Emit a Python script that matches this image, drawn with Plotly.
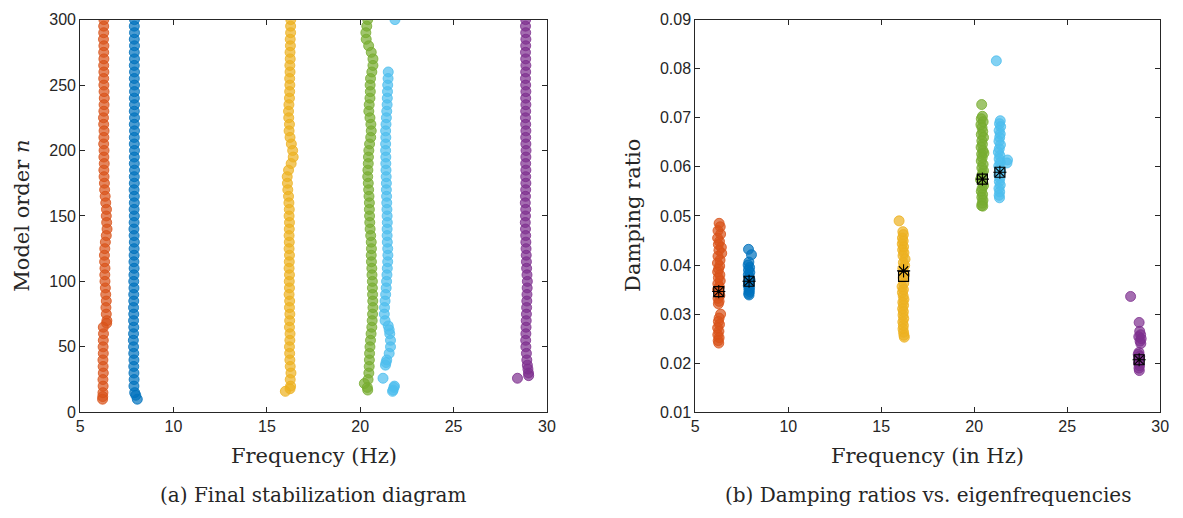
import plotly.graph_objects as go

# ---------------- data: stabilization diagram (model order n, frequency Hz) ----------------
MODE1_STAB = [(10, 6.20), (12, 6.21), (15, 6.22), (20, 6.23), (25, 6.22), (30, 6.24), (35, 6.23),
              (40, 6.22), (45, 6.24), (50, 6.23), (55, 6.24), (60, 6.25), (65, 6.24), (68, 6.42),
              (70, 6.43), (75, 6.40), (80, 6.38), (85, 6.40), (90, 6.37), (95, 6.35), (100, 6.33),
              (105, 6.32), (110, 6.33), (115, 6.31), (120, 6.30), (125, 6.32), (130, 6.35), (135, 6.40),
              (140, 6.44), (145, 6.42), (150, 6.40), (155, 6.41), (160, 6.37), (165, 6.34), (170, 6.31),
              (175, 6.30), (180, 6.28), (185, 6.27), (190, 6.29), (195, 6.27), (200, 6.28), (205, 6.26),
              (210, 6.27), (215, 6.28), (220, 6.26), (225, 6.25), (230, 6.27), (235, 6.28), (240, 6.29),
              (245, 6.28), (250, 6.27), (255, 6.26), (260, 6.27), (265, 6.26), (270, 6.27), (275, 6.26),
              (280, 6.27), (285, 6.25), (290, 6.26), (295, 6.26), (300, 6.27)]
MODE2_STAB = [(10, 8.06), (13, 7.98), (15, 7.92), (20, 7.88), (25, 7.89), (30, 7.88), (35, 7.87),
              (40, 7.88), (45, 7.87), (50, 7.86), (55, 7.85), (60, 7.86), (65, 7.87), (70, 7.86),
              (75, 7.87), (80, 7.86), (85, 7.87), (90, 7.87), (95, 7.88), (100, 7.87), (105, 7.88),
              (110, 7.89), (115, 7.88), (120, 7.89), (125, 7.89), (130, 7.90), (135, 7.89), (140, 7.88),
              (145, 7.89), (150, 7.90), (155, 7.89), (160, 7.90), (165, 7.90), (170, 7.89), (175, 7.90),
              (180, 7.90), (185, 7.91), (190, 7.90), (195, 7.90), (200, 7.91), (205, 7.90), (210, 7.90),
              (215, 7.91), (220, 7.90), (225, 7.91), (230, 7.90), (235, 7.91), (240, 7.90), (245, 7.91),
              (250, 7.91), (255, 7.90), (260, 7.91), (265, 7.90), (270, 7.91), (275, 7.90), (280, 7.91),
              (285, 7.90), (290, 7.91), (295, 7.90), (300, 7.91)]
MODE3_STAB = [(16, 15.99), (18, 16.24), (20, 16.27), (25, 16.25), (30, 16.29), (35, 16.25), (40, 16.23),
              (45, 16.22), (50, 16.21), (55, 16.23), (60, 16.24), (65, 16.21), (70, 16.22), (75, 16.23),
              (80, 16.21), (85, 16.22), (90, 16.19), (95, 16.21), (100, 16.20), (105, 16.21), (110, 16.19),
              (115, 16.20), (120, 16.21), (125, 16.19), (130, 16.20), (135, 16.19), (140, 16.20),
              (145, 16.21), (150, 16.19), (155, 16.20), (160, 16.18), (165, 16.16), (170, 16.12),
              (175, 16.10), (180, 16.09), (185, 16.16), (190, 16.30), (195, 16.41), (200, 16.38),
              (205, 16.31), (210, 16.24), (215, 16.19), (220, 16.21), (225, 16.17), (230, 16.16),
              (235, 16.18), (240, 16.21), (245, 16.22), (250, 16.23), (255, 16.22), (260, 16.24),
              (265, 16.23), (270, 16.25), (275, 16.24), (280, 16.26), (285, 16.25), (290, 16.27),
              (295, 16.27), (300, 16.28)]
MODE4_STAB = [(17, 20.40), (19, 20.38), (22, 20.22), (25, 20.42), (30, 20.46), (35, 20.48), (40, 20.49),
              (45, 20.50), (50, 20.52), (55, 20.55), (60, 20.58), (65, 20.62), (70, 20.64), (75, 20.66),
              (80, 20.68), (85, 20.67), (90, 20.66), (95, 20.65), (100, 20.65), (105, 20.63), (110, 20.62),
              (115, 20.60), (120, 20.59), (125, 20.60), (130, 20.59), (135, 20.56), (140, 20.53),
              (145, 20.51), (150, 20.50), (155, 20.49), (160, 20.49), (165, 20.47), (170, 20.45),
              (175, 20.43), (180, 20.40), (185, 20.41), (190, 20.43), (195, 20.44), (200, 20.46),
              (205, 20.50), (210, 20.56), (215, 20.59), (220, 20.57), (225, 20.52), (230, 20.46),
              (235, 20.48), (240, 20.52), (245, 20.54), (250, 20.53), (255, 20.55), (260, 20.62),
              (265, 20.68), (270, 20.68), (275, 20.59), (280, 20.45), (285, 20.32), (290, 20.30),
              (295, 20.35), (300, 20.40)]
MODE5_STAB = [(16, 21.73), (17, 21.76), (19, 21.80), (20, 21.83), (26, 21.22), (36, 21.35), (38, 21.38),
              (40, 21.42), (45, 21.55), (50, 21.62), (55, 21.62), (60, 21.58), (63, 21.55), (66, 21.50),
              (70, 21.33), (75, 21.29), (80, 21.30), (85, 21.33), (90, 21.36), (95, 21.39), (100, 21.41),
              (105, 21.43), (110, 21.45), (115, 21.47), (120, 21.48), (125, 21.47), (130, 21.45),
              (135, 21.44), (140, 21.44), (145, 21.45), (150, 21.44), (155, 21.43), (160, 21.42),
              (165, 21.41), (170, 21.40), (175, 21.40), (180, 21.39), (185, 21.38), (190, 21.37),
              (195, 21.37), (200, 21.36), (205, 21.36), (210, 21.37), (215, 21.36), (220, 21.38),
              (225, 21.40), (230, 21.42), (235, 21.44), (240, 21.45), (245, 21.46), (250, 21.47),
              (255, 21.49), (260, 21.50), (300, 21.86)]
MODE6_STAB = [(26, 28.42), (28, 29.02), (30, 29.01), (33, 28.98), (36, 28.95), (40, 28.92), (45, 28.90),
              (50, 28.87), (55, 28.86), (60, 28.87), (65, 28.88), (70, 28.89), (75, 28.90), (80, 28.91),
              (85, 28.92), (90, 28.93), (95, 28.94), (100, 28.95), (105, 28.93), (110, 28.91),
              (115, 28.90), (120, 28.89), (125, 28.88), (130, 28.87), (135, 28.86), (140, 28.85),
              (145, 28.84), (150, 28.85), (155, 28.86), (160, 28.84), (165, 28.85), (170, 28.86),
              (175, 28.87), (180, 28.86), (185, 28.87), (190, 28.86), (195, 28.87), (200, 28.88),
              (205, 28.87), (210, 28.86), (215, 28.87), (220, 28.86), (225, 28.85), (230, 28.86),
              (235, 28.87), (240, 28.86), (245, 28.87), (250, 28.86), (255, 28.85), (260, 28.86),
              (265, 28.87), (270, 28.86), (275, 28.85), (280, 28.86), (285, 28.87), (290, 28.86),
              (295, 28.85), (300, 28.86)]

# ---------------- data: damping ratio vs frequency ----------------
MODE1_DAMP = [(6.28, 0.0485), (6.34, 0.0478), (6.22, 0.0470), (6.36, 0.0463), (6.20, 0.0455),
              (6.30, 0.0448), (6.24, 0.0442), (6.40, 0.0436), (6.27, 0.0430), (6.42, 0.0424),
              (6.22, 0.0418), (6.33, 0.0410), (6.19, 0.0404), (6.31, 0.0398), (6.25, 0.0392),
              (6.20, 0.0386), (6.32, 0.0380), (6.24, 0.0374), (6.34, 0.0368), (6.21, 0.0362),
              (6.29, 0.0356), (6.20, 0.0350), (6.27, 0.0344), (6.32, 0.0338), (6.22, 0.0332),
              (6.28, 0.0326), (6.24, 0.0321), (6.36, 0.0300), (6.28, 0.0292), (6.24, 0.0285),
              (6.30, 0.0279), (6.20, 0.0272), (6.27, 0.0265), (6.21, 0.0258), (6.28, 0.0252),
              (6.23, 0.0246), (6.26, 0.0241)]
MODE2_DAMP = [(7.86, 0.0432), (8.02, 0.0421), (7.88, 0.0406), (7.84, 0.0400), (7.92, 0.0395),
              (7.86, 0.0390), (7.93, 0.0385), (7.85, 0.0380), (7.90, 0.0375), (7.94, 0.0370),
              (7.86, 0.0366), (7.91, 0.0362), (7.85, 0.0358), (7.92, 0.0354), (7.88, 0.0350),
              (7.91, 0.0346), (7.87, 0.0342), (7.89, 0.0339)]
MODE3_DAMP = [(15.96, 0.0490), (16.16, 0.0468), (16.19, 0.0462), (16.14, 0.0455), (16.18, 0.0449),
              (16.13, 0.0443), (16.20, 0.0437), (16.15, 0.0431), (16.22, 0.0425), (16.17, 0.0419),
              (16.28, 0.0412), (16.19, 0.0405), (16.26, 0.0399), (16.16, 0.0393), (16.20, 0.0386),
              (16.24, 0.0380), (16.18, 0.0374), (16.21, 0.0363), (16.12, 0.0356), (16.19, 0.0350),
              (16.14, 0.0344), (16.18, 0.0337), (16.22, 0.0330), (16.16, 0.0324), (16.20, 0.0318),
              (16.15, 0.0311), (16.19, 0.0305), (16.17, 0.0298), (16.21, 0.0291), (16.16, 0.0284),
              (16.19, 0.0277), (16.17, 0.0270), (16.20, 0.0263), (16.22, 0.0257), (16.24, 0.0253)]
MODE4_DAMP = [(20.40, 0.0727), (20.44, 0.0703), (20.38, 0.0698), (20.48, 0.0692), (20.36, 0.0686),
              (20.42, 0.0680), (20.46, 0.0672), (20.38, 0.0666), (20.50, 0.0660), (20.41, 0.0653),
              (20.44, 0.0646), (20.37, 0.0640), (20.47, 0.0633), (20.40, 0.0626), (20.52, 0.0628),
              (20.43, 0.0619), (20.38, 0.0612), (20.48, 0.0605), (20.41, 0.0598), (20.50, 0.0592),
              (20.44, 0.0586), (20.39, 0.0580), (20.34, 0.0574), (20.46, 0.0568), (20.50, 0.0562),
              (20.42, 0.0556), (20.38, 0.0550), (20.45, 0.0544), (20.41, 0.0538), (20.47, 0.0532),
              (20.43, 0.0526), (20.40, 0.0521), (20.46, 0.0520)]
MODE5_DAMP = [(21.19, 0.0816), (21.40, 0.0694), (21.36, 0.0688), (21.42, 0.0682), (21.34, 0.0674),
              (21.40, 0.0667), (21.37, 0.0660), (21.33, 0.0652), (21.41, 0.0645), (21.35, 0.0637),
              (21.30, 0.0630), (21.38, 0.0623), (21.34, 0.0616), (21.79, 0.0614), (21.76, 0.0608),
              (21.40, 0.0609), (21.32, 0.0602), (21.37, 0.0596), (21.42, 0.0590), (21.33, 0.0583),
              (21.38, 0.0577), (21.35, 0.0570), (21.40, 0.0563), (21.33, 0.0556), (21.37, 0.0549),
              (21.34, 0.0542), (21.36, 0.0537)]
MODE6_DAMP = [(28.41, 0.0336), (28.87, 0.0283), (28.90, 0.0265), (28.95, 0.0258), (28.85, 0.0254),
              (28.98, 0.0250), (28.92, 0.0245), (28.96, 0.0240), (28.86, 0.0222), (28.82, 0.0218),
              (28.90, 0.0214), (28.85, 0.0210), (28.88, 0.0205), (28.84, 0.0200), (28.89, 0.0195),
              (28.86, 0.0190), (28.88, 0.0185)]

MEAN_FREQ = [6.26, 7.89, 16.20, 20.44, 21.38, 28.87]
MEAN_DAMP = [0.0346, 0.0367, 0.0377, 0.0575, 0.0589, 0.0207]
MEDIAN_DAMP = [0.0346, 0.0367, 0.0388, 0.0575, 0.0589, 0.0207]

X_TICKS = [5, 10, 15, 20, 25, 30]
N_TICKS = [0, 50, 100, 150, 200, 250, 300]
D_TICKS = [0.01, 0.02, 0.03, 0.04, 0.05, 0.06, 0.07, 0.08, 0.09]

# ---------------- styling ----------------
COLORS = [(217, 83, 25), (0, 114, 189), (237, 177, 32), (119, 172, 48), (77, 190, 238), (126, 47, 142)]
STAB = [MODE1_STAB, MODE2_STAB, MODE3_STAB, MODE4_STAB, MODE5_STAB, MODE6_STAB]
DAMP = [MODE1_DAMP, MODE2_DAMP, MODE3_DAMP, MODE4_DAMP, MODE5_DAMP, MODE6_DAMP]

W, H = 1183, 518
AX_L = (77, 549)
AX_R = (699, 1169)
AX_Y = (12, 418)

def px_x(p):
    return p / W

def px_y(p):
    return 1 - p / H

fig = go.Figure()

def mk(c):
    r, g, b = c
    return dict(size=10, symbol="circle", color=f"rgba({r},{g},{b},0.7)",
                line=dict(color=f"rgba({r},{g},{b},0.8)", width=1))

for c, pts in zip(COLORS, STAB):
    fig.add_trace(go.Scatter(x=[p[1] for p in pts], y=[p[0] for p in pts], mode="markers",
                             marker=mk(c), xaxis="x", yaxis="y", showlegend=False,
                             hoverinfo="skip"))

for c, pts in zip(COLORS, DAMP):
    fig.add_trace(go.Scatter(x=[p[0] for p in pts], y=[p[1] for p in pts], mode="markers",
                             marker=mk(c), xaxis="x2", yaxis="y2", showlegend=False,
                             hoverinfo="skip"))

fig.add_trace(go.Scatter(x=MEAN_FREQ, y=MEAN_DAMP, mode="markers", xaxis="x2", yaxis="y2",
                         marker=dict(symbol="square-open", size=10, color="black",
                                     line=dict(color="black", width=1.2)),
                         showlegend=False, hoverinfo="skip"))
fig.add_trace(go.Scatter(x=MEAN_FREQ, y=MEDIAN_DAMP, mode="markers", xaxis="x2", yaxis="y2",
                         marker=dict(symbol="asterisk-open", size=11, color="black",
                                     line=dict(color="black", width=1.1)),
                         showlegend=False, hoverinfo="skip"))

AXCOL = "#262626"
tickfont = dict(family="Liberation Sans, Arial, sans-serif", size=16, color=AXCOL)
common = dict(showgrid=False, zeroline=False, showline=True, linecolor=AXCOL, linewidth=1,
              mirror="ticks", ticks="inside", ticklen=5, tickwidth=1, tickcolor=AXCOL,
              tickfont=tickfont)

fig.update_layout(
    width=W, height=H, margin=dict(l=0, r=0, t=0, b=0),
    paper_bgcolor="white", plot_bgcolor="white",
    xaxis=dict(domain=[px_x(AX_L[0]), px_x(AX_L[1])], range=[5, 30], tickvals=X_TICKS,
               anchor="y", **common),
    yaxis=dict(domain=[px_y(AX_Y[1]), px_y(AX_Y[0])], range=[0, 300], tickvals=N_TICKS,
               anchor="x", **common),
    xaxis2=dict(domain=[px_x(AX_R[0]), px_x(AX_R[1])], range=[5, 30], tickvals=X_TICKS,
                anchor="y2", **common),
    yaxis2=dict(domain=[px_y(AX_Y[1]), px_y(AX_Y[0])], range=[0.01, 0.09], tickvals=D_TICKS,
                tickformat=".2f", anchor="x2", **common),
)

serif = "DejaVu Serif, serif"
ann = [
    dict(text="Frequency (Hz)", x=px_x((AX_L[0] + AX_L[1]) / 2), y=px_y(463), size=21, angle=0),
    dict(text="Frequency (in Hz)", x=px_x((AX_R[0] + AX_R[1]) / 2), y=px_y(463), size=21, angle=0),
    dict(text="Model order <i>n</i>", x=px_x(18), y=px_y((AX_Y[0] + AX_Y[1]) / 2), size=21, angle=-90),
    dict(text="Damping ratio", x=px_x(636), y=px_y((AX_Y[0] + AX_Y[1]) / 2), size=21, angle=-90),
    dict(text="(a) Final stabilization diagram", x=px_x((AX_L[0] + AX_L[1]) / 2), y=px_y(504),
         size=20, angle=0),
    dict(text="(b) Damping ratios vs. eigenfrequencies", x=px_x((AX_R[0] + AX_R[1]) / 2),
         y=px_y(504), size=20, angle=0),
]
for a in ann:
    fig.add_annotation(text=a["text"], x=a["x"], y=a["y"], xref="paper", yref="paper",
                       xanchor="center", yanchor="middle", showarrow=False, textangle=a["angle"],
                       font=dict(family=serif, size=a["size"], color=AXCOL))

fig.write_html("out.html", config={"displayModeBar": False},
               post_script="document.body.style.margin='0px';")
